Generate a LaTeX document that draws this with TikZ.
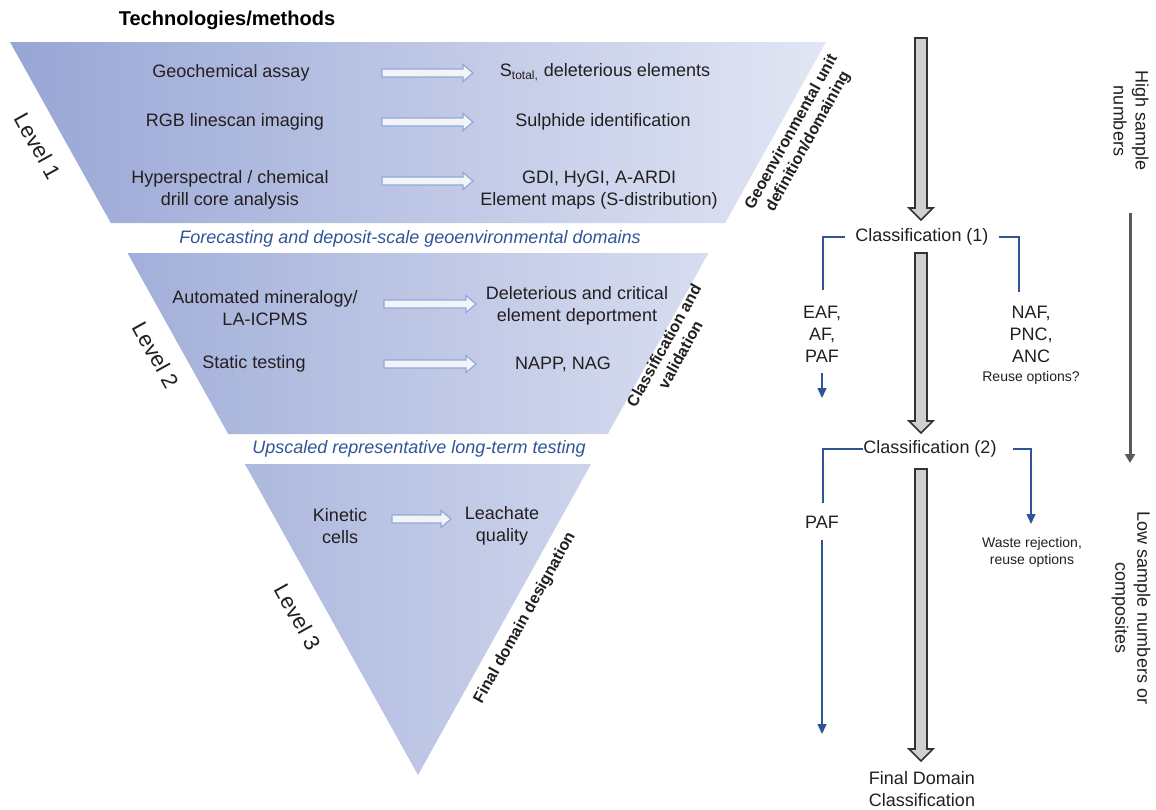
\documentclass[tikz,border=0pt]{standalone}
\usepackage{fontspec}
\setmainfont{Liberation Sans}
\usetikzlibrary{arrows.meta,calc}
\definecolor{txt}{HTML}{231F20}
\definecolor{fblue}{HTML}{2F5597}
\definecolor{shL}{RGB}{152,166,213}
\definecolor{shR}{RGB}{226,230,244}
\definecolor{harfill}{HTML}{F3F4F8}
\definecolor{hardraw}{HTML}{8EA9DB}
\definecolor{garfill}{HTML}{D0D0D0}
\definecolor{gardraw}{HTML}{333333}
\definecolor{darkarr}{HTML}{595959}
\newcommand\hollowarr[3]{\draw[harrow] (#1,{#3-4}) -- ({#2-10},{#3-4}) -- ({#2-10},{#3-8.5}) -- (#2,#3) -- ({#2-10},{#3+8.5}) -- ({#2-10},{#3+4}) -- (#1,{#3+4}) -- cycle;}
\newcommand\grayarr[3]{\draw[garrow] ({#1-6},#2) -- ({#1+6},#2) -- ({#1+6},{#3-12}) -- ({#1+12},{#3-12}) -- (#1,#3) -- ({#1-12},{#3-12}) -- ({#1-6},{#3-12}) -- cycle;}
\begin{document}
\begin{tikzpicture}[x=0.5pt,y=-0.5pt,
  every node/.style={text=txt, font=\fontsize{9}{11}\selectfont, align=center, inner sep=0pt},
  bluelab/.style={text=fblue, font=\fontsize{9}{11}\selectfont\itshape},
  sidelab/.style={font=\fontsize{8}{9.5}\selectfont\bfseries, rotate=61},
  levlab/.style={font=\fontsize{11}{13}\selectfont, rotate=-61},
  small/.style={font=\fontsize{7}{8.5}\selectfont},
  harrow/.style={fill=harfill, draw=hardraw, line width=0.6pt},
  garrow/.style={fill=garfill, draw=gardraw, line width=0.8pt},
  bline/.style={draw=fblue, line width=0.7pt},
  btip/.style={-{Triangle[width=4.5pt,length=5pt]}},
  darkline/.style={draw=darkarr, line width=1.5pt, -{Triangle[width=5pt,length=4.5pt]}}
]
\useasboundingbox (0,0) rectangle (1156,809);

% funnel shapes with one global gradient
\begin{scope}
\clip (10,42) -- (826,42) -- (725.2,223) -- (110.8,223) -- cycle
      (127.5,253) -- (708.5,253) -- (607.8,434) -- (228.2,434) -- cycle
      (244.9,464) -- (591.1,464) -- (418,775) -- cycle;
\shade[left color=shL, right color=shR] (10,30) rectangle (826,780);
\end{scope}

% title
\node[font=\fontsize{10}{12}\selectfont\bfseries, text=black] (title) at (227,20) {Technologies/methods};

% Level 1
\node (geo) at (231,73) {Geochemical assay};
\node (rgb) at (235,122) {RGB linescan imaging};
\node (hyp) at (230,190) {Hyperspectral / chemical\\drill core analysis};
\node (stot) at (605,72) {S\textsubscript{total,} deleterious elements};
\node (sulph) at (603,122) {Sulphide identification};
\node (gdi) at (599,190) {GDI, HyGI, A-ARDI\\Element maps (S-distribution)};
\hollowarr{382}{473}{73}
\hollowarr{382}{473}{122}
\hollowarr{382}{473}{181}
\node[levlab] (lev1) at (38,146) {Level 1};
\node[sidelab] (geoenv) at (800,137) {Geoenvironmental unit\\definition/domaining};
\node[bluelab] (fore) at (410,239) {Forecasting and deposit-scale geoenvironmental domains};

% Level 2
\node (auto) at (265,308) {Automated mineralogy/\\LA-ICPMS};
\node (delet) at (577,306) {Deleterious and critical\\element deportment};
\node (stat) at (254,364) {Static testing};
\node (napp) at (563,364) {NAPP, NAG};
\hollowarr{384}{476}{304}
\hollowarr{384}{476}{364}
\node[levlab] (lev2) at (156,355) {Level 2};
\node[sidelab] (clval) at (672,350) {Classification and\\validation};
\node[bluelab] (upsc) at (419,449) {Upscaled representative long-term testing};

% Level 3
\node (kin) at (340,526) {Kinetic\\cells};
\node (leach) at (502,526) {Leachate\\quality};
\hollowarr{392}{451}{519}
\node[levlab] (lev3) at (298,617) {Level 3};
\node[sidelab] (fdd) at (525,618) {Final domain designation};

% right flow chart
\grayarr{921}{38}{220}
\grayarr{921}{253}{433}
\grayarr{921}{469}{761}

\node[inner xsep=5pt] (c1) at (922,237) {Classification (1)};
\coordinate (c1l) at (823,290);
\coordinate (c1r) at (1019,292);
\draw[bline] (c1.west) -| (c1l);
\draw[bline] (c1.east) -| (c1r);
\node (eaf) at (822,334) {EAF,\\AF,\\PAF};
\coordinate (ea1) at (822,373);
\coordinate (ea2) at (822,398);
\draw[bline,btip] (ea1) -- (ea2);
\node (naf) at (1031,334) {NAF,\\PNC,\\ANC};
\node[small] (reuse) at (1031,378) {Reuse options?};

\node (c2) at (930,449) {Classification (2)};
\coordinate (c2l) at (823,503);
\coordinate (c2r) at (1013,449);
\coordinate (c2rt) at (1031,524);
\draw[bline] (c2.west) -| (c2l);
\draw[bline,btip] (c2r) -| (c2rt);
\node (paf) at (822,522) {PAF};
\coordinate (p1) at (822,540);
\coordinate (p2) at (822,734);
\draw[bline,btip] (p1) -- (p2);
\node[small] (waste) at (1032,552) {Waste rejection,\\reuse options};

\node (fdc) at (922,789) {Final Domain\\Classification};

\coordinate (d1) at (1130,213);
\coordinate (d2) at (1130,463);
\draw[darkline] (d1) -- (d2);
\node[rotate=-90] (high) at (1131,121) {High sample\\numbers};
\node[rotate=-90] (low) at (1131,608) {Low sample numbers or\\composites};
\end{tikzpicture}
\end{document}
